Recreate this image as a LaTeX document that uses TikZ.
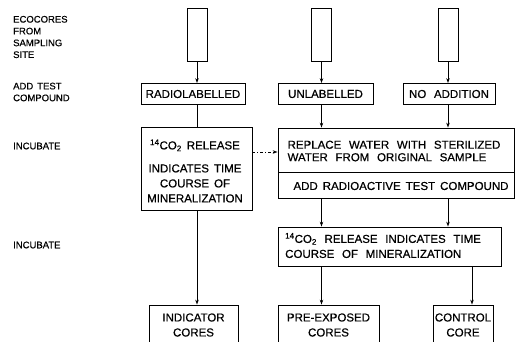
\documentclass[tikz,border=0pt]{standalone}
\usepackage{fontspec}
\setmainfont{Liberation Sans}[FakeBold=0.6, WordSpace=2.4]
\usetikzlibrary{arrows.meta}
\newcommand\lblspace{\spaceskip 4pt\relax}
\newcommand\addspace{\spaceskip 5pt\relax}
\tikzset{
  box/.style={draw, line width=0.8pt, inner sep=0pt, font=\fontsize{11.5}{12}\selectfont},
  core/.style={draw, line width=0.8pt, inner sep=0pt, minimum width=20pt, minimum height=53pt},
  lbl/.style={anchor=west, inner sep=0pt, align=left, font=\fontsize{9.5}{11.8}\selectfont\lblspace},
  txt/.style={inner sep=0pt, font=\fontsize{11.5}{15}\selectfont},
  conn/.style={line width=0.8pt},
  arr/.style={line width=0.8pt, -{Stealth[length=5pt,width=3.5pt]}},
  dasharr/.style={arr, dash pattern=on 3pt off 2pt on 1pt off 2pt},
}
\begin{document}
\begin{tikzpicture}[x=1pt,y=-1pt]
\clip (0,0) rectangle (517,342);
% side labels
\node[lbl] (l1) at (13,37) {ECOCORES\\FROM\\SAMPLING\\SITE};
\node[lbl] (l2) at (13,92) {ADD TEST\\COMPOUND};
\node[lbl] (l3) at (13,146) {INCUBATE};
\node[lbl] (l4) at (13,245) {INCUBATE};
% cores
\node[core] (c1) at (197,34.5) {};
\node[core] (c2) at (321.5,34.5) {};
\node[core] (c3) at (448,34.5) {};
% add test compound
\node[box, minimum width=104pt, minimum height=21pt] (rad) at (193,94) {RADIOLABELLED};
\node[box, minimum width=95pt, minimum height=21pt] (unl) at (325.5,94) {UNLABELLED};
\node[box, minimum width=92pt, minimum height=21pt] (noa) at (449,94) {NO ADDITION};
% incubate
\node[box, minimum width=111pt, minimum height=83pt] (inc) at (196.5,168.5) {};
\node[txt, align=center, font=\fontsize{11.5}{15}\selectfont\addspace] (inct) at (195,171)
  {\textsuperscript{14}CO\textsubscript{2} RELEASE\\[8pt]INDICATES TIME\\COURSE OF\\MINERALIZATION};
\node[box, minimum width=236pt, minimum height=44pt] (rep) at (396,150) {};
\node[txt, align=left, font=\fontsize{11.5}{12.5}\selectfont] (rept) at (394,151)
  {REPLACE WATER WITH STERILIZED\\WATER FROM ORIGINAL SAMPLE};
\node[box, minimum width=236pt, minimum height=26pt] (add) at (396,185) {};
\node[txt, font=\fontsize{11.5}{12}\selectfont\addspace] (addt) at (401,186) {ADD RADIOACTIVE TEST COMPOUND};
% second incubation
\node[box, minimum width=223pt, minimum height=39pt] (min) at (389.5,246.5) {};
\node[txt, align=left, anchor=west] (mint) at (285,245.5)
  {\textsuperscript{14}CO\textsubscript{2} RELEASE INDICATES TIME\\COURSE OF MINERALIZATION};
% results
\node[box, minimum width=89pt, minimum height=40pt, align=center, font=\fontsize{11.5}{15}\selectfont] (ind) at (193.5,325) {INDICATOR\\CORES};
\node[box, minimum width=101pt, minimum height=40pt, align=center, font=\fontsize{11.5}{15}\selectfont] (pre) at (328.5,325) {PRE-EXPOSED\\CORES};
\node[box, minimum width=60pt, minimum height=40pt, align=center, font=\fontsize{11.5}{15}\selectfont] (ctl) at (463,325) {CONTROL\\CORE};
% connectors
\draw[arr] (c1.south) -- (c1.south |- rad.north);
\draw[arr] (c2.south) -- (c2.south |- unl.north);
\draw[arr] (c3.south) -- (c3.south |- noa.north);
\draw[conn] (c1.south |- rad.south) -- (c1.south |- inc.north);
\draw[arr] (c2.south |- unl.south) -- (c2.south |- rep.north);
\draw[arr] (c3.south |- noa.south) -- (c3.south |- rep.north);
\draw[dasharr] ([yshift=-2pt]inc.east |- rep.west) -- ([yshift=-2pt]rep.west);
\draw[arr] (c2.south |- add.south) -- (c2.south |- min.north);
\draw[arr] (c3.south |- add.south) -- (c3.south |- min.north);
\draw[arr] (c1.south |- inc.south) -- (c1.south |- ind.north);
\draw[arr] (c2.south |- min.south) -- (c2.south |- pre.north);
\coordinate (cx) at (472,0);
\draw[arr] (cx |- min.south) -- (cx |- ctl.north);
\end{tikzpicture}
\end{document}
